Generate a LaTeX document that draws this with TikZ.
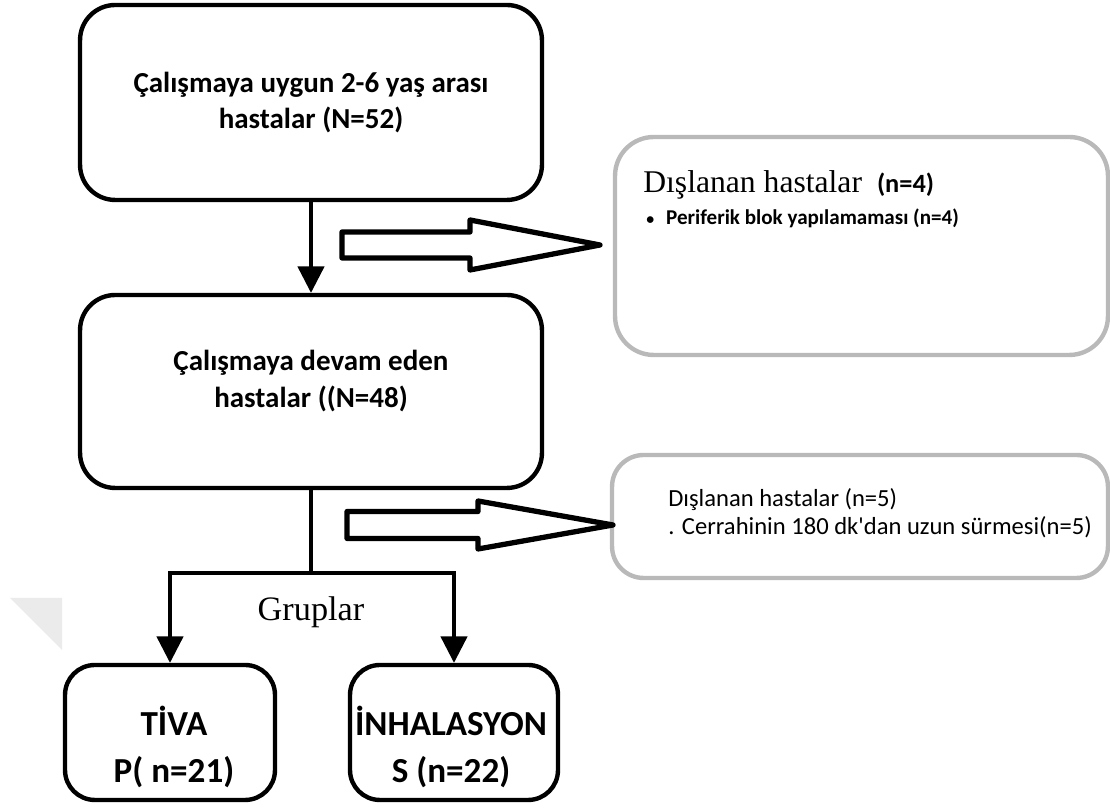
\documentclass[tikz,border=0pt]{standalone}
\usepackage{fontspec}
\setmainfont{Liberation Serif}
\newfontfamily\calfont{Carlito}
\usetikzlibrary{arrows.meta,positioning}

\tikzset{
  kutu/.style={draw=black, line width=2.5pt, rounded corners=20pt, inner sep=0pt, align=center,
    font=\calfont\bfseries\fontsize{16.5}{21}\selectfont},
  kucukkutu/.style={kutu, rounded corners=17pt},
  grikutu/.style={draw=gray!55, line width=2.5pt, rounded corners=22pt, inner sep=0pt},
  ok/.style={line width=1.8pt, -{Triangle[width=15pt,length=15pt]}},
  bosok/.style={line width=3pt, line join=round, fill=white},
}

\begin{document}
\begin{tikzpicture}[x=0.02cm, y=0.02cm]
  \useasboundingbox (0,0) rectangle (1110,810);

  % soluk üçgen (sol kenar)
  \fill[black!8] (10,212) -- (62,212) -- (62,160) -- cycle;

  % ana kutular
  \node[kutu, minimum width=9.24cm, minimum height=3.9cm] (uygun) at (311,707.5)
    {Çalışmaya uygun 2-6 yaş arası\\hastalar (N=52)};
  \node[kutu, minimum width=9.24cm, minimum height=3.86cm] (devam) at (311,418.5) {};
  \node[align=center, font=\calfont\bfseries\fontsize{16.5}{21}\selectfont] (devamyazi) at (311,429)
    {Çalışmaya devam eden\\hastalar ((N=48)};

  % dışlanan hastalar kutuları
  \node[grikutu, minimum width=9.86cm, minimum height=4.36cm] (dislanan1) at (861.5,564) {};
  \node[anchor=base west, font=\fontsize{18}{20}\selectfont, inner sep=0pt] (baslik1) at (643,617)
    {Dışlanan hastalar\hspace{0.3cm}{\calfont\bfseries\fontsize{15}{17}\selectfont(n=4)}};
  \node[anchor=base west, font=\calfont\bfseries\fontsize{12}{14}\selectfont, inner sep=0pt] (neden1) at (646,585)
    {{\fontsize{9}{10}\selectfont•}\hspace{0.24cm}Periferik blok yapılamaması (n=4)};

  \node[grikutu, rounded corners=18pt, minimum width=9.92cm, minimum height=2.46cm] (dislanan2) at (860,293.5) {};
  \node[anchor=base west, font=\calfont\fontsize{14}{17}\selectfont, inner sep=0pt] (baslik2) at (668,303)
    {Dışlanan hastalar (n=5)};
  \node[anchor=base west, font=\calfont\fontsize{14}{17}\selectfont, inner sep=0pt] (neden2) at (668,275)
    {. Cerrahinin 180 dk'dan uzun sürmesi(n=5)};

  % gruplar
  \node[kucukkutu, minimum width=4.2cm, minimum height=2.7cm] (tiva) at (170,77.5) {};
  \node[align=center, font=\calfont\bfseries\fontsize{20}{27}\selectfont] (tivayazi) at (174,63)
    {TİVA\\P( n=21)};
  \node[kucukkutu, minimum width=4.16cm, minimum height=2.7cm] (inh) at (454,77.5) {};
  \node[align=center, font=\calfont\bfseries\fontsize{20}{27}\selectfont] (inhyazi) at (451,63)
    {İNHALASYON\\S (n=22)};
  \node[font=\fontsize{19.5}{22}\selectfont] (gruplar) at (311,198) {Gruplar};

  % oklar
  \coordinate (dal) at (311,237);
  \draw[ok] (uygun) -- (devam);
  \draw[line width=1.8pt] (devam.south) -- (dal);
  \draw[ok] (dal) -| (tiva.north);
  \draw[ok] (dal) -| (inh.north);

  % içi boş oklar
  \coordinate (bosok1) at (342,565);
  \coordinate (bosok2) at (347,285);
  \draw[bosok] (bosok1) ++(0,13) -- ++(128,0) -- ++(0,12) -- ++(130,-25) -- ++(-130,-25) -- ++(0,12) -- ++(-128,0) -- cycle;
  \draw[bosok] (bosok2) ++(0,13.5) -- ++(131,0) -- ++(0,10.5) -- ++(135,-24) -- ++(-135,-24) -- ++(0,10.5) -- ++(-131,0) -- cycle;
\end{tikzpicture}
\end{document}
